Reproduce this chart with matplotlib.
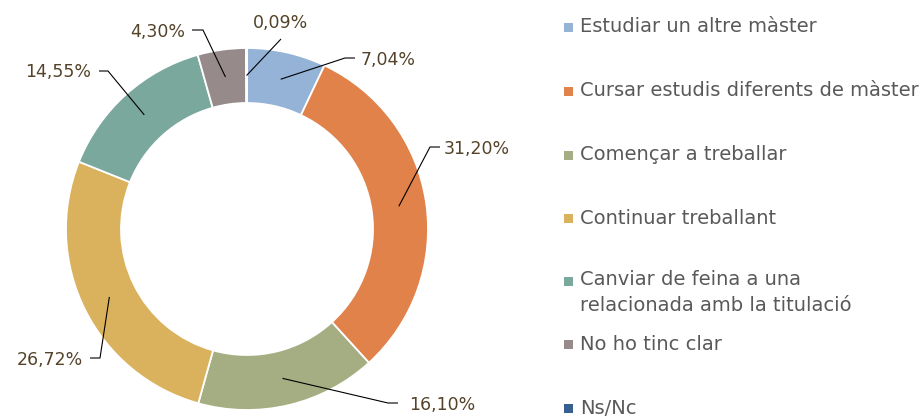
import numpy as np
import matplotlib
matplotlib.use("Agg")
import matplotlib.pyplot as plt
from matplotlib.patches import Rectangle

# data (percent), clockwise from 12 o'clock
categories = ["Estudiar un altre màster",
              "Cursar estudis diferents de màster",
              "Començar a treballar",
              "Continuar treballant",
              "Canviar de feina a una\nrelacionada amb la titulació",
              "No ho tinc clar",
              "Ns/Nc"]
values = [7.04, 31.20, 16.10, 26.72, 14.55, 4.30, 0.09]
labels = ["7,04%", "31,20%", "16,10%", "26,72%", "14,55%", "4,30%", "0,09%"]
colors = ["#95B3D7", "#E0824A", "#A5AD82", "#DAB25E", "#7BA89D", "#968B8A", "#376092"]

# layout (pixel coords, y downwards)
cx, cy = 247, 229
r_out, r_in = 181, 126
r_mid = (r_out + r_in) / 2
# elbow point, end of horizontal tick, text position, text alignment
label_pos = [
    ((345, 58), (355, 58), (361, 60), "left"),
    ((430, 147), (440, 147), (444, 149), "left"),
    ((388, 403), (398, 403), (409, 405), "left"),
    ((100, 358), (90, 358), (83, 360), "right"),
    ((108, 71), (99, 71), (91, 72), "right"),
    ((203, 30), (192, 30), (185, 32), "right"),
    ((281, 39), (281, 39), (281, 23), "center"),
]
legend_y = [27, 91, 155, 218, 281, 344, 408]

fig = plt.figure(figsize=(9.23, 4.16), dpi=100)
ax = fig.add_axes([0, 0, 1, 1])

ax.pie(values, colors=colors, startangle=-90, counterclock=True,
       center=(cx, cy), radius=r_out, frame=True,
       wedgeprops=dict(width=r_out - r_in, edgecolor="white", linewidth=1.3))
ax.set_xlim(0, 923)
ax.set_ylim(416, 0)
ax.axis("off")

txt_col = "#54432A"
cum = 0
for v, lab, (elbow, end, tpos, ha) in zip(values, labels, label_pos):
    th = np.deg2rad(-90 + 360 * (cum + v / 2) / 100)
    cum += v
    ax_ = cx + r_mid * np.cos(th)
    ay_ = cy + r_mid * np.sin(th)
    ax.plot([ax_, elbow[0], end[0]], [ay_, elbow[1], end[1]],
            color="black", lw=0.8, solid_capstyle="butt")
    ax.text(tpos[0], tpos[1], lab, ha=ha, va="center", fontsize=12.5,
            color=txt_col)

# legend
for cat, col, y in zip(categories, colors, legend_y):
    ax.add_patch(Rectangle((564, y - 4.5), 9, 9, color=col, lw=0))
    if "\n" in cat:
        ax.text(580, y - 11, cat, ha="left", va="top", fontsize=14,
                color="#595959", linespacing=1.45)
    else:
        ax.text(580, y, cat, ha="left", va="center", fontsize=14,
                color="#595959")

fig.savefig("out.png", dpi=100)
